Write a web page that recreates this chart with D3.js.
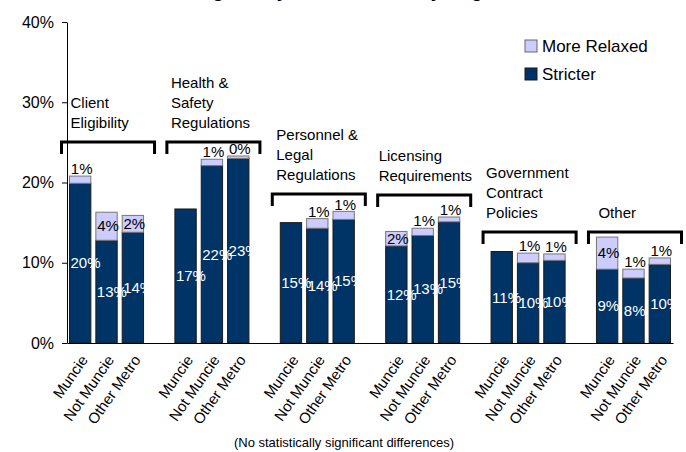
<!DOCTYPE html>
<html>
<head>
<meta charset="utf-8">
<script src="https://cdn.jsdelivr.net/npm/d3@7"></script>
<style>
    body { margin: 0; background: #fff; }
    svg { font-family: "Liberation Sans", Arial, sans-serif; }
</style>
</head>
<body>
<div id="chart"></div>
<script>
// chart data
var groupLines = [
    ["Client", "Eligibility"],
    ["Health &", "Safety", "Regulations"],
    ["Personnel &", "Legal", "Regulations"],
    ["Licensing", "Requirements"],
    ["Government", "Contract", "Policies"],
    ["Other"]
];
var regions = ["Muncie", "Not Muncie", "Other Metro"];

// percent values, 3 per group (Muncie, Not Muncie, Other Metro)
var stricter = [19.9, 12.8, 13.8, 16.7, 22.1, 23.0, 15.0, 14.3, 15.4, 12.1, 13.4, 15.1, 11.4, 10.0, 10.3, 9.2, 8.1, 9.8];
var relaxed = [0.9, 3.5, 2.1, null, 0.8, 0.3, null, 1.2, 1.0, 1.8, 0.9, 0.6, null, 1.2, 0.8, 4.0, 1.1, 0.8];

var yTicks = [0, 10, 20, 30, 40];
var seriesNames = ["More Relaxed", "Stricter"];
var footnote = "(No statistically significant differences)";

// layout only (hand placed brackets / captions)
var bracketY = [142, 142, 194, 195, 232, 232];
var captionDx = [9, 4, 4, 1, 3, 10];

var svgWidth = 686;
var svgHeight = 452;
var darkColor = "#003366";
var lightColor = "#CCCCFF";

var svg = d3.select("#chart")
    .append("svg")
    .attr("width", svgWidth)
    .attr("height", svgHeight);

// build rows, with a spacer slot between groups
var rows = [];
var domain = [];
groupLines.forEach(function(g, gi) {
    if (gi > 0) domain.push("gap" + gi);
    regions.forEach(function(r, ri) {
        var i = gi * 3 + ri;
        var key = gi + "-" + ri;
        domain.push(key);
        rows.push({ key: key, group: gi, region: r, stricter: stricter[i], relaxed: relaxed[i] });
    });
});

var x = d3.scaleBand()
    .domain(domain)
    .range([67, 673])
    .paddingInner(0.19)
    .paddingOuter(0.095);

var y = d3.scaleLinear()
    .domain([0, 40])
    .range([343, 22]);

// title (cut off at the top edge, only descenders show)
svg.append("text")
    .attr("x", 188)
    .attr("y", -3.5)
    .attr("font-size", "19px")
    .attr("font-weight", "bold")
    .text("Regulatory Environment, by Region");

// y axis
var leftAxis = d3.axisLeft(y)
    .tickValues(yTicks)
    .tickFormat(d => d + "%")
    .tickSize(5)
    .tickSizeOuter(0)
    .tickPadding(8);

var yAxisG = svg.append("g")
    .attr("transform", "translate(67,0)")
    .call(leftAxis);
yAxisG.selectAll("text").attr("font-size", "16px").attr("fill", "#000").attr("font-family", "Liberation Sans, Arial, sans-serif");
yAxisG.selectAll("line,path").attr("stroke", "#000");

// bars
var barG = svg.append("g");

barG.selectAll(".dark")
    .data(rows)
    .enter()
    .append("rect")
    .attr("x", d => x(d.key))
    .attr("width", x.bandwidth())
    .attr("y", d => y(d.stricter))
    .attr("height", d => y(0) - y(d.stricter))
    .attr("fill", darkColor)
    .attr("stroke", "#1a1a1a")
    .attr("stroke-width", 1);

barG.selectAll(".light")
    .data(rows.filter(d => d.relaxed !== null))
    .enter()
    .append("rect")
    .attr("x", d => x(d.key))
    .attr("width", x.bandwidth())
    .attr("y", d => y(d.stricter + d.relaxed))
    .attr("height", d => y(d.stricter) - y(d.stricter + d.relaxed))
    .attr("fill", lightColor)
    .attr("stroke", "#777")
    .attr("stroke-width", 1);

// x axis
var bottomAxis = d3.axisBottom(x)
    .tickValues(rows.map(d => d.key))
    .tickFormat(k => regions[+k.split("-")[1]])
    .tickSize(0)
    .tickSizeOuter(0);

var xAxisG = svg.append("g")
    .attr("transform", "translate(0,343)")
    .call(bottomAxis);
xAxisG.select(".domain").attr("stroke", "#000");
xAxisG.selectAll("text")
    .attr("font-size", "15px")
    .attr("fill", "#000")
    .attr("font-family", "Liberation Sans, Arial, sans-serif")
    .attr("text-anchor", "end")
    .attr("y", 0)
    .attr("dy", "0.35em")
    .attr("transform", "translate(4,14) rotate(-55)");

// value labels, stricter (white)
barG.selectAll(".darkLabel")
    .data(rows)
    .enter()
    .append("text")
    .attr("x", d => x(d.key) + 1)
    .attr("y", d => (y(0) + y(d.stricter)) / 2)
    .attr("dy", "0.35em")
    .attr("font-size", "15px")
    .attr("fill", "#fff")
    .text(d => Math.round(d.stricter) + "%");

// value labels, more relaxed (black)
barG.selectAll(".lightLabel")
    .data(rows.filter(d => d.relaxed !== null))
    .enter()
    .append("text")
    .attr("x", d => x(d.key) + x.bandwidth() / 2 + 1.5)
    .attr("y", function(d) {
        var top = y(d.stricter + d.relaxed);
        var bottom = y(d.stricter);
        if (bottom - top >= 12) return (top + bottom) / 2;
        return top - 7;
    })
    .attr("dy", "0.35em")
    .attr("text-anchor", "middle")
    .attr("font-size", "15px")
    .attr("fill", "#000")
    .text(d => Math.round(d.relaxed) + "%");

// group brackets and captions
var capG = svg.append("g");
groupLines.forEach(function(lines, gi) {
    var first = x(gi + "-0");
    var last = x(gi + "-2") + x.bandwidth();
    var left = first - 8;
    var right = last + 11;
    var by = bracketY[gi];

    capG.append("path")
        .attr("d", `M${left},${by + 12}V${by}H${right}V${by + 12}`)
        .attr("fill", "none")
        .attr("stroke", "#000")
        .attr("stroke-width", 3);

    lines.forEach(function(line, li) {
        capG.append("text")
            .attr("x", left + captionDx[gi])
            .attr("y", by - 14 - (lines.length - 1 - li) * 20)
            .attr("font-size", "15px")
            .attr("fill", "#000")
            .text(line);
    });
});

// legend
var legend = svg.append("g")
    .attr("transform", "translate(525,40)");

var legendColors = [lightColor, darkColor];
var legendStroke = ["#666", "#1a1a1a"];
seriesNames.forEach(function(name, i) {
    legend.append("rect")
        .attr("x", 0)
        .attr("y", i * 28)
        .attr("width", 12)
        .attr("height", 12)
        .attr("fill", legendColors[i])
        .attr("stroke", legendStroke[i]);
    legend.append("text")
        .attr("x", 17)
        .attr("y", i * 28 + 12)
        .attr("font-size", "17px")
        .attr("fill", "#000")
        .text(name);
});

// footnote
svg.append("text")
    .attr("x", 344)
    .attr("y", 447)
    .attr("text-anchor", "middle")
    .attr("font-size", "13px")
    .attr("fill", "#000")
    .text(footnote);
</script>
</body>
</html>
